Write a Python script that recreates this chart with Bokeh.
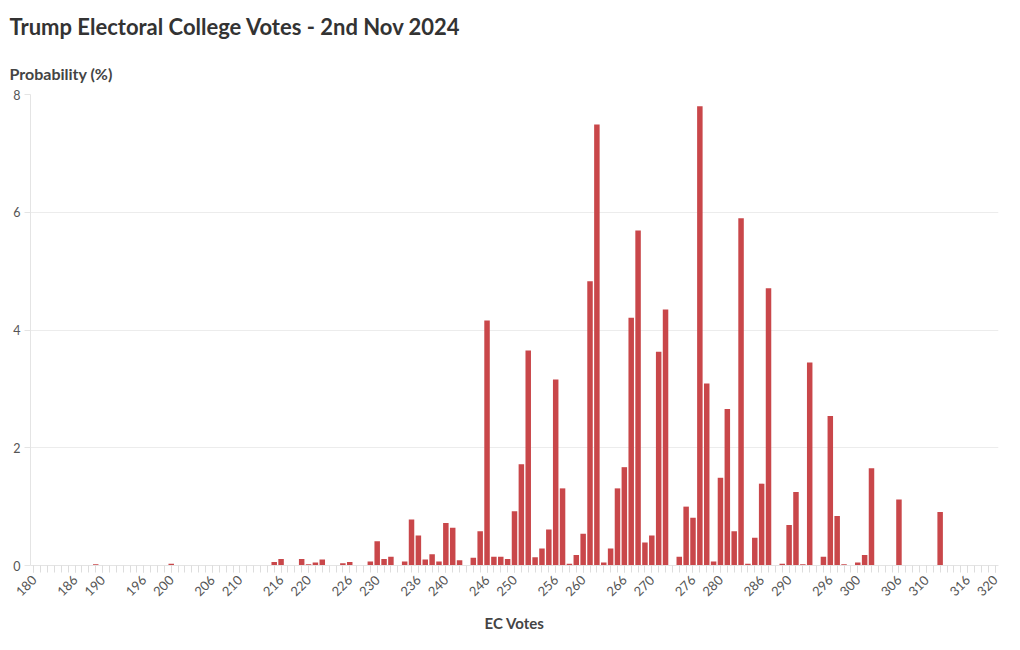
from math import pi
from bokeh.plotting import figure
from bokeh.models import FixedTicker, Title
from bokeh.embed import file_html
from bokeh.resources import INLINE

# Electoral college votes (x) and probability (%)
votes = list(range(180, 321))
prob_180s = [0, 0, 0, 0, 0, 0, 0, 0, 0, 0.02]
prob_190s = [0, 0, 0, 0, 0, 0, 0, 0, 0, 0.01]
prob_200s = [0.03, 0, 0, 0, 0, 0.01, 0.01, 0, 0, 0]
prob_210s = [0, 0.01, 0.01, 0, 0, 0.06, 0.11, 0, 0.01, 0.11]
prob_220s = [0.02, 0.05, 0.10, 0, 0.01, 0.04, 0.06, 0.01, 0.01, 0.07]
prob_230s = [0.41, 0.11, 0.15, 0, 0.07, 0.78, 0.51, 0.10, 0.19, 0.07]
prob_240s = [0.72, 0.64, 0.09, 0.01, 0.13, 0.58, 4.16, 0.15, 0.15, 0.11]
prob_250s = [0.92, 1.72, 3.65, 0.14, 0.29, 0.61, 3.16, 1.31, 0.03, 0.18]
prob_260s = [0.54, 4.83, 7.49, 0.05, 0.29, 1.31, 1.67, 4.21, 5.69, 0.39]
prob_270s = [0.51, 3.63, 4.35, 0.01, 0.15, 1.00, 0.81, 7.80, 3.09, 0.07]
prob_280s = [1.49, 2.66, 0.58, 5.90, 0.03, 0.47, 1.39, 4.71, 0, 0.03]
prob_290s = [0.69, 1.25, 0.02, 3.45, 0, 0.15, 2.54, 0.84, 0.02, 0]
prob_300s = [0.05, 0.18, 1.65, 0, 0, 0, 1.12, 0, 0, 0]
prob_310s = [0, 0, 0.91, 0, 0, 0, 0, 0, 0, 0]
prob_320 = [0]
prob = (prob_180s + prob_190s + prob_200s + prob_210s + prob_220s + prob_230s
        + prob_240s + prob_250s + prob_260s + prob_270s + prob_280s + prob_290s
        + prob_300s + prob_310s + prob_320)

x_tick_labels = [180, 186, 190, 196, 200, 206, 210, 216, 220, 226, 230, 236, 240,
                 246, 250, 256, 260, 266, 270, 276, 280, 286, 290, 296, 300, 306,
                 310, 316, 320]
y_ticks = [0, 2, 4, 6, 8]

FONT = "Lato"

p = figure(width=1004, height=634, x_range=(179.5, 320.5), y_range=(0, 8),
           output_backend="svg", toolbar_location=None,
           min_border_left=30, min_border_right=6, min_border_bottom=69,
           min_border_top=0)

p.add_layout(Title(text="Probability (%)", text_font=FONT, text_font_size="16px",
                   text_font_style="bold", text_color="#444444", align="left",
                   offset=-21, standoff=24), "above")
p.add_layout(Title(text="Trump Electoral College Votes - 2nd Nov 2024", text_font=FONT,
                   text_font_size="22px", text_font_style="bold", text_color="#333333",
                   align="left", offset=-21, standoff=20, text_line_height=0.6),
             "above")

p.vbar(x=votes, top=prob, width=0.8, color="#c9474a", line_color=None)

p.outline_line_color = None
p.xgrid.grid_line_color = None
p.ygrid.grid_line_color = "#ececec"
p.ygrid.ticker = FixedTicker(ticks=y_ticks)

p.yaxis.ticker = FixedTicker(ticks=y_ticks)
p.yaxis.axis_line_color = "#e4e4e4"
p.yaxis.major_tick_line_color = "#e4e4e4"
p.yaxis.major_tick_out = 6
p.yaxis.major_tick_in = 0
p.yaxis.minor_tick_line_color = None
p.yaxis.major_label_standoff = 4
p.yaxis.major_label_text_font = FONT
p.yaxis.major_label_text_font_size = "12.5px"
p.yaxis.major_label_text_color = "#555555"

p.xaxis.ticker = FixedTicker(ticks=x_tick_labels, minor_ticks=votes)
p.xaxis.axis_line_color = "#e4e4e4"
p.xaxis.major_tick_line_color = "#dddddd"
p.xaxis.minor_tick_line_color = "#dddddd"
p.xaxis.major_tick_out = 7
p.xaxis.major_tick_in = 0
p.xaxis.minor_tick_out = 7
p.xaxis.minor_tick_in = 0
p.xaxis.major_label_orientation = pi / 4
p.xaxis.major_label_standoff = 5
p.xaxis.major_label_text_font = FONT
p.xaxis.major_label_text_font_size = "13px"
p.xaxis.major_label_text_color = "#555555"
p.xaxis.axis_label = "EC Votes"
p.xaxis.axis_label_text_font = FONT
p.xaxis.axis_label_text_font_size = "15px"
p.xaxis.axis_label_text_font_style = "bold"
p.xaxis.axis_label_text_color = "#444444"
p.xaxis.axis_label_standoff = 10

open("out.html", "w").write(file_html(p, INLINE))
